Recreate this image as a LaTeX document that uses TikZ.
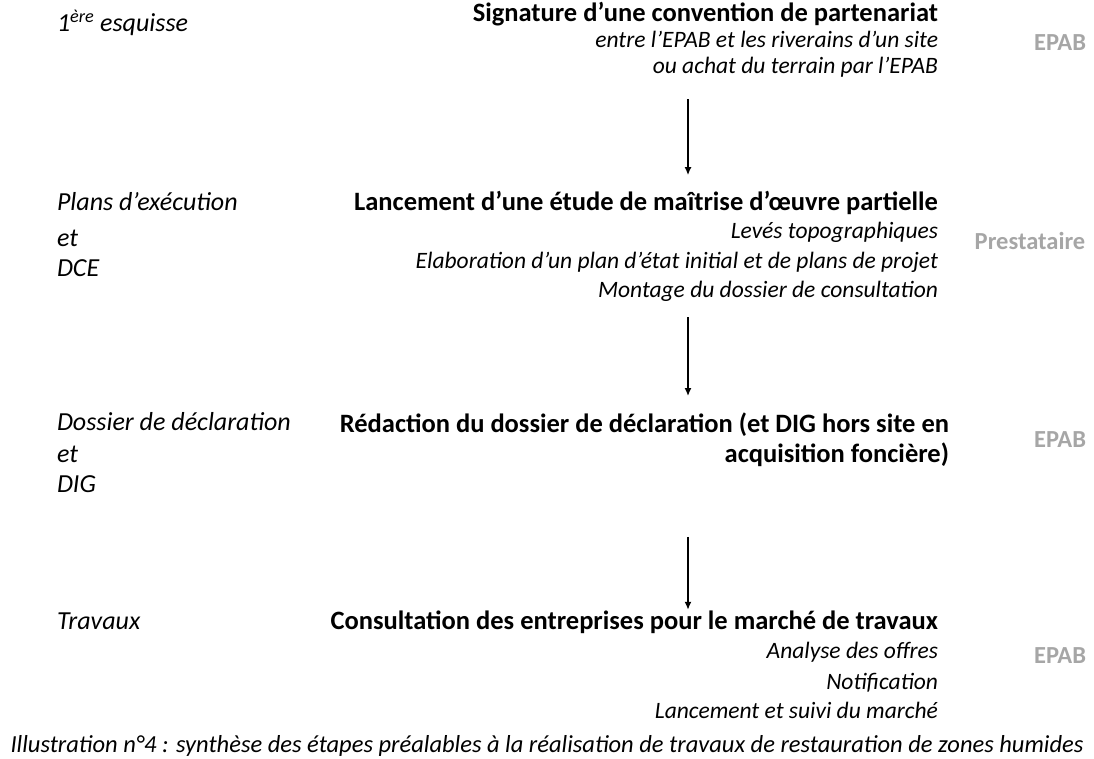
\documentclass[tikz,border=0pt]{standalone}
\usepackage{fontspec}
\setmainfont{Carlito}
\usepackage{xcolor}
\usepackage{tikz}
\usetikzlibrary{calc,arrows.meta}
\definecolor{epabgray}{HTML}{A6A6A6}

\begin{document}
\begin{tikzpicture}[x=1pt,y=-1pt,
  every node/.style={inner sep=0pt,outer sep=0pt},
  phase/.style={anchor=mid west,font=\fontsize{26}{30}\selectfont\itshape},
  titre/.style={anchor=mid east,font=\fontsize{26.5}{30}\selectfont\bfseries},
  detail/.style={anchor=mid east,font=\fontsize{23.5}{28}\selectfont\itshape},
  acteur/.style={anchor=center,text=epabgray,font=\fontsize{24.5}{29}\selectfont\bfseries},
  flow/.style={-{Latex[length=8pt,width=7pt]},line width=1.4pt}]
\useasboundingbox (0,0) rectangle (1094,758);
\coordinate (axis) at (688,0);
% etape 1
\node[phase] (ph1) at (57,29) {1\textsuperscript{ère} esquisse};
\node[titre] (sig) at (938,19) {Signature d’une convention de partenariat};
\node[detail] (sig1) at (938,45) {entre l’EPAB et les riverains d’un site};
\node[detail] (sig2) at (938,71) {ou achat du terrain par l’EPAB};
\node[acteur] (act1) at (1060,43) {EPAB};
% etape 2
\node[phase] (ph2a) at (57,208) {Plans d’exécution};
\node[phase] (ph2b) at (57,244) {et};
\node[phase] (ph2c) at (57,274) {DCE};
\node[titre] (lanc) at (938,208) {Lancement d’une étude de maîtrise d’œuvre partielle};
\node[detail] (lanc1) at (938,236) {Levés topographiques};
\node[detail] (lanc2) at (938,266) {Elaboration d’un plan d’état initial et de plans de projet};
\node[detail] (lanc3) at (938,295) {Montage du dossier de consultation};
\node[acteur] (act2) at (1030,241) {Prestataire};
% etape 3
\node[phase] (ph3a) at (57,428) {Dossier de déclaration};
\node[phase] (ph3b) at (57,460) {et};
\node[phase] (ph3c) at (57,490) {DIG};
\node[titre,align=right,anchor=north east] (red) at (949,413) {Rédaction du dossier de déclaration (et DIG hors site en\\acquisition foncière)};
\node[acteur] (act3) at (1060,440) {EPAB};
% etape 4
\node[phase] (ph4) at (57,627) {Travaux};
\node[titre] (cons) at (938,627) {Consultation des entreprises pour le marché de travaux};
\node[detail] (cons1) at (938,656) {Analyse des offres};
\node[detail] (cons2) at (938,687) {Notification};
\node[detail] (cons3) at (938,716) {Lancement et suivi du marché};
\node[acteur] (act4) at (1060,656) {EPAB};
% legende
\node[font=\fontsize{24.5}{29}\selectfont\itshape] (leg) at (547,746) {Illustration n°4 : synthèse des étapes préalables à la réalisation de travaux de restauration de zones humides};
% fleches
\draw[flow,shorten <=22pt,shorten >=16pt] (sig2.south -| axis) -- (lanc.north -| axis);
\draw[flow,shorten <=16pt,shorten >=17pt] (lanc3.south -| axis) -- (red.north -| axis);
\draw[flow,shorten <=70pt,shorten >=1pt] (red.south -| axis) -- (cons.north -| axis);
\end{tikzpicture}
\end{document}
